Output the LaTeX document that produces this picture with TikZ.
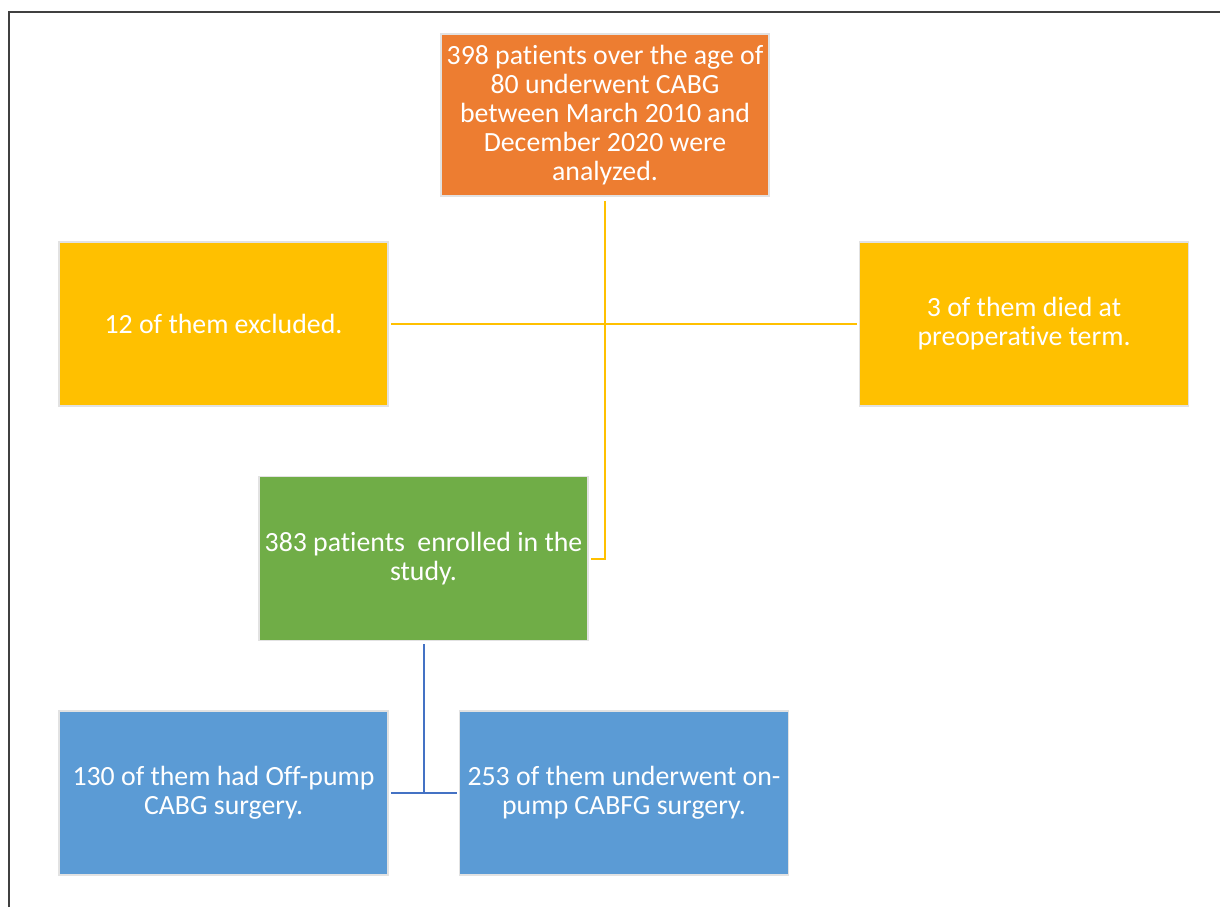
\documentclass[tikz,border=0pt]{standalone}
\usepackage{fontspec}
\setmainfont[Ligatures=NoCommon]{Carlito}
\definecolor{orangeF}{HTML}{ED7D31}
\definecolor{yellowF}{HTML}{FFC000}
\definecolor{greenF}{HTML}{70AD47}
\definecolor{blueF}{HTML}{5B9BD5}
\definecolor{blueL}{HTML}{4472C4}
\definecolor{edgeG}{HTML}{E2E2E2}
\definecolor{frameG}{HTML}{404040}
\begin{document}
\begin{tikzpicture}[x=1pt,y=-1pt,
  box/.style={rectangle, draw=edgeG, line width=1.5pt, text=white, align=center,
    font=\fontsize{27.8}{29}\selectfont, inner sep=0pt},
  wbox/.style={box, minimum width=329pt, minimum height=164pt},
  conn/.style={line width=2pt}]
\useasboundingbox (0,0) rectangle (1220,907);
\draw[frameG, line width=1.5pt] (9,907) -- (9,12) -- (1220,12);
\node[box, fill=orangeF, minimum width=328pt, minimum height=162pt] (top) at (605,115)
  {398 patients over the age of\\80 underwent CABG\\between March 2010 and\\December 2020 were\\analyzed.};
\node[wbox, fill=yellowF] (exc) at (223.5,324) {12 of them excluded.};
\node[wbox, fill=yellowF] (died) at (1024,324) {3 of them died at\\preoperative term.};
\node[wbox, fill=greenF] (enr) at (423.5,558.5) {383 patients\ \ enrolled in the\\study.};
\node[wbox, fill=blueF] (off) at (223.5,793) {130 of them had Off-pump\\CABG surgery.};
\node[wbox, fill=blueF] (on) at (624,793) {253 of them underwent on-\\pump CABFG surgery.};
\draw[conn, yellowF] ([yshift=-4pt]top.south) |- ([xshift=2pt]enr.east);
\draw[conn, yellowF] ([xshift=2pt]exc.east) -- ([xshift=-2pt]died.west);
\draw[conn, blueL] ([yshift=-3pt]enr.south) -- (enr.south |- off.east);
\draw[conn, blueL] ([xshift=2pt]off.east) -- ([xshift=-2pt]on.west);
\end{tikzpicture}
\end{document}
